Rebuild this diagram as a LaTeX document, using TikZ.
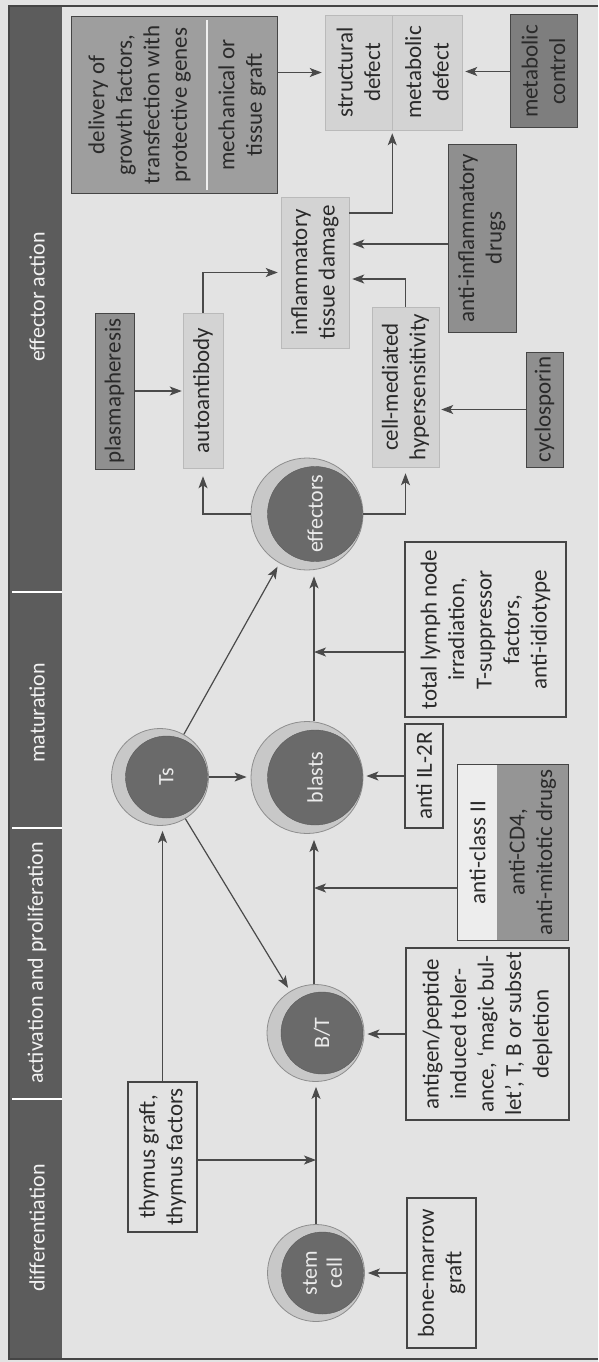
\documentclass[tikz,border=0pt]{standalone}
\usepackage{fontspec}
\setmainfont{Carlito}
\usetikzlibrary{arrows.meta,calc}
\definecolor{cBg}{HTML}{E3E3E3}
\definecolor{cHdr}{HTML}{5C5C5C}
\definecolor{cRing}{HTML}{C8C8C8}
\definecolor{cRingD}{HTML}{8E8E8E}
\definecolor{cCore}{HTML}{6A6A6A}
\definecolor{cLight}{HTML}{D3D3D3}
\definecolor{cMid}{HTML}{8F8F8F}
\definecolor{cDark}{HTML}{7E7E7E}
\definecolor{cPale}{HTML}{9E9E9E}
\definecolor{cAcg}{HTML}{959595}
\definecolor{cWhite}{HTML}{EDEDED}
\definecolor{cBord}{HTML}{454545}
\definecolor{cTxt}{HTML}{2A2A2A}
\definecolor{cLine}{HTML}{4A4A4A}
\begin{document}
\begin{tikzpicture}[x=1pt,y=-1pt,
  base/.style={rotate=90, align=center, inner sep=0pt, text=cTxt, font=\fontsize{23}{27.5}\selectfont},
  wbox/.style={base, draw=cBord, line width=1.1pt},
  lbox/.style={base, fill=cLight, draw=cLight!88!black, line width=0.5pt},
  gbox/.style={base, fill=cMid, draw=cBord, line width=1pt},
  cellring/.style={circle, fill=cRing, draw=cRingD, line width=0.8pt, inner sep=0pt},
  cellcore/.style={circle, fill=cCore, draw=cCore!85!black, line width=0.4pt, inner sep=0pt, rotate=90, align=center, text=white!92!black, font=\fontsize{22}{25}\selectfont},
  hd/.style={rotate=90, text=white!95!black, font=\fontsize{22}{26}\selectfont, inner sep=0pt},
  arr/.style={draw=cLine, line width=1.2pt, -{Stealth[length=12pt,width=9pt,inset=3pt]}},
  divline/.style={draw=white, line width=1.5pt}
]
\fill[cBg] (0,0) rectangle (598,1362);
\useasboundingbox (0,0) rectangle (598,1362);
\draw[cBord, line width=1.5pt] (598,6) -- (9,6) -- (9,1359) -- (598,1359);
% header
\fill[cHdr] (10,7) rectangle (62,1358);
\draw[divline] (12,1099) -- (62,1099);
\draw[divline] (12,828) -- (62,828);
\draw[divline] (12,592) -- (62,592);
\node[hd] (h1) at (37,1228) {differentiation};
\node[hd] (h2) at (37,963) {activation and proliferation};
\node[hd] (h3) at (37,713) {maturation};
\node[hd] (h4) at (37,297) {effector action};
% cells
\node[cellring, minimum size=97pt] (stem) at (316,1273) {};
\node[cellcore, minimum size=82pt] (stemc) at ([xshift=6.5pt]stem.center) {stem\\cell};
\node[cellring, minimum size=97pt] (bt) at (315.5,1033) {};
\node[cellcore, minimum size=82pt] (btc) at ([xshift=6.5pt]bt.center) {B/T};
\node[cellring, minimum size=97pt] (ts) at (160,777) {};
\node[cellcore, minimum size=82pt] (tsc) at ([xshift=6.5pt]ts.center) {Ts};
\node[cellring, minimum size=112pt] (bl) at (307,777.5) {};
\node[cellcore, minimum size=95pt] (blc) at ([xshift=8pt]bl.center) {blasts};
\node[cellring, minimum size=112pt] (eff) at (307,514) {};
\node[cellcore, minimum size=95pt] (effc) at ([xshift=8pt]eff.center) {effectors};
% boxes
\node[wbox, minimum width=150pt, minimum height=69pt] (bmg) at (441.5,1273) {bone-marrow\\graft};
\node[wbox, minimum width=150pt, minimum height=69pt] (thy) at (162.5,1157) {thymus graft,\\thymus factors};
\node[wbox, minimum width=172pt, minimum height=163pt] (ant) at (487.5,1034) {antigen/peptide\\induced toler-\\ance, ‘magic bul-\\let’, T, B or subset\\depletion};
\node[base, fill=cWhite, minimum width=175pt, minimum height=39pt] (acw) at (477.5,852.5) {anti-class II};
\node[base, fill=cAcg, minimum width=175pt, minimum height=71pt] (acg) at (532.5,852.5) {anti-CD4,\\anti-mitotic drugs};
\draw[cBord, line width=1.1pt] (acw.north east) rectangle (acg.south west);
\node[wbox, minimum width=104pt, minimum height=38pt] (il2) at (424,776) {anti IL-2R};
\node[wbox, minimum width=175pt, minimum height=161pt] (tln) at (485.5,629.5) {total lymph node\\irradiation,\\T-suppressor\\factors,\\anti-idiotype};
\node[gbox, minimum width=156pt, minimum height=39pt] (plas) at (114.5,391) {plasmapheresis};
\node[lbox, minimum width=155pt, minimum height=40pt] (autob) at (203,390.5) {autoantibody};
\node[lbox, minimum width=151pt, minimum height=68pt] (infl) at (315,272.5) {inflammatory\\tissue damage};
\node[lbox, minimum width=160pt, minimum height=67pt] (cmh) at (405.5,387) {cell-mediated\\hypersensitivity};
\node[gbox, minimum width=115pt, minimum height=37pt] (cyc) at (544.5,409.5) {cyclosporin};
\node[gbox, minimum width=188pt, minimum height=68pt] (aid) at (482,238) {anti-inflammatory\\drugs};
\node[lbox, minimum width=115pt, minimum height=67pt] (struct) at (358.5,72.5) {structural\\defect};
\node[lbox, minimum width=115pt, minimum height=70pt] (metab) at (427,72.5) {metabolic\\defect};
\node[gbox, fill=cDark, minimum width=113pt, minimum height=67pt] (mc) at (543.5,71.5) {metabolic\\control};
\node[base, fill=cPale, minimum width=176pt, minimum height=135pt] (dlv) at (139.5,105) {delivery of\\growth factors,\\transfection with\\protective genes};
\node[base, fill=cPale, minimum width=176pt, minimum height=70pt] (mech) at (242,105) {mechanical or\\tissue graft};
\draw[cBord, line width=1pt] (dlv.north east) rectangle (mech.south west);
\draw[white!85!cPale, line width=1.5pt] ([yshift=-3pt]dlv.south east) -- ([yshift=3pt]dlv.south west);
% connectors
\coordinate (j1) at (316,1160);
\coordinate (j2) at (314,888);
\coordinate (j3) at (314,652);
\coordinate (i1) at ([yshift=28.5pt]infl.south);
\coordinate (i2) at ([yshift=-6.5pt]infl.south);
\coordinate (i3) at ([yshift=59.5pt]infl.south);
\draw[arr, shorten >=3pt] (bmg.north) -- (bmg.north -| stem.east);
\draw[arr, shorten >=5pt] (stem.north) -- (stem.north |- bt.south);
\draw[arr] (thy.south |- j1) -- (j1);
\draw[arr, shorten >=5pt] (thy.east) -- (thy.east |- ts.south);
\draw[arr, shorten >=3pt] (ant.north) -- (ant.north -| bt.east);
\draw[arr, shorten >=6pt] ([xshift=-1.5pt]bt.north) -- ([xshift=7pt]bl.south);
\draw[arr] (acw.north |- j2) -- (j2);
\draw[arr, shorten >=3pt] (il2.north) -- (il2.north -| bl.east);
\draw[arr, shorten >=6pt] ([xshift=7pt]bl.north) -- ([xshift=7pt]eff.south);
\draw[arr] (tln.north |- j3) -- (j3);
\draw[arr, shorten >=4pt] (ts.east) -- (ts.east -| bl.west);
\draw[arr, shorten >=4pt] (ts) -- (bt);
\draw[arr, shorten >=4pt] (ts) -- (eff);
\draw[arr, shorten >=8pt] (eff.west) -| (autob.west);
\draw[arr, shorten >=6pt] (eff.east) -| (cmh.west);
\draw[arr, shorten >=1pt] (plas.south) -- (plas.south -| autob.north);
\draw[arr, shorten >=3pt] (autob.east) |- (infl.north);
\draw[arr, shorten >=3pt] (aid.north |- i1) -- (i1);
\draw[arr, shorten >=3pt] (cmh.east) |- (i2);
\draw[arr, shorten >=3pt] (i3) -| (struct.south west);
\draw[arr, shorten >=3pt] (mc.north) -- (mc.north -| metab.south);
\draw[arr, shorten >=3pt] (struct.north -| mech.south) -- (struct.north);
\draw[arr, shorten >=2pt] (cyc.north) -- (cyc.north -| cmh.south);
\end{tikzpicture}
\end{document}
